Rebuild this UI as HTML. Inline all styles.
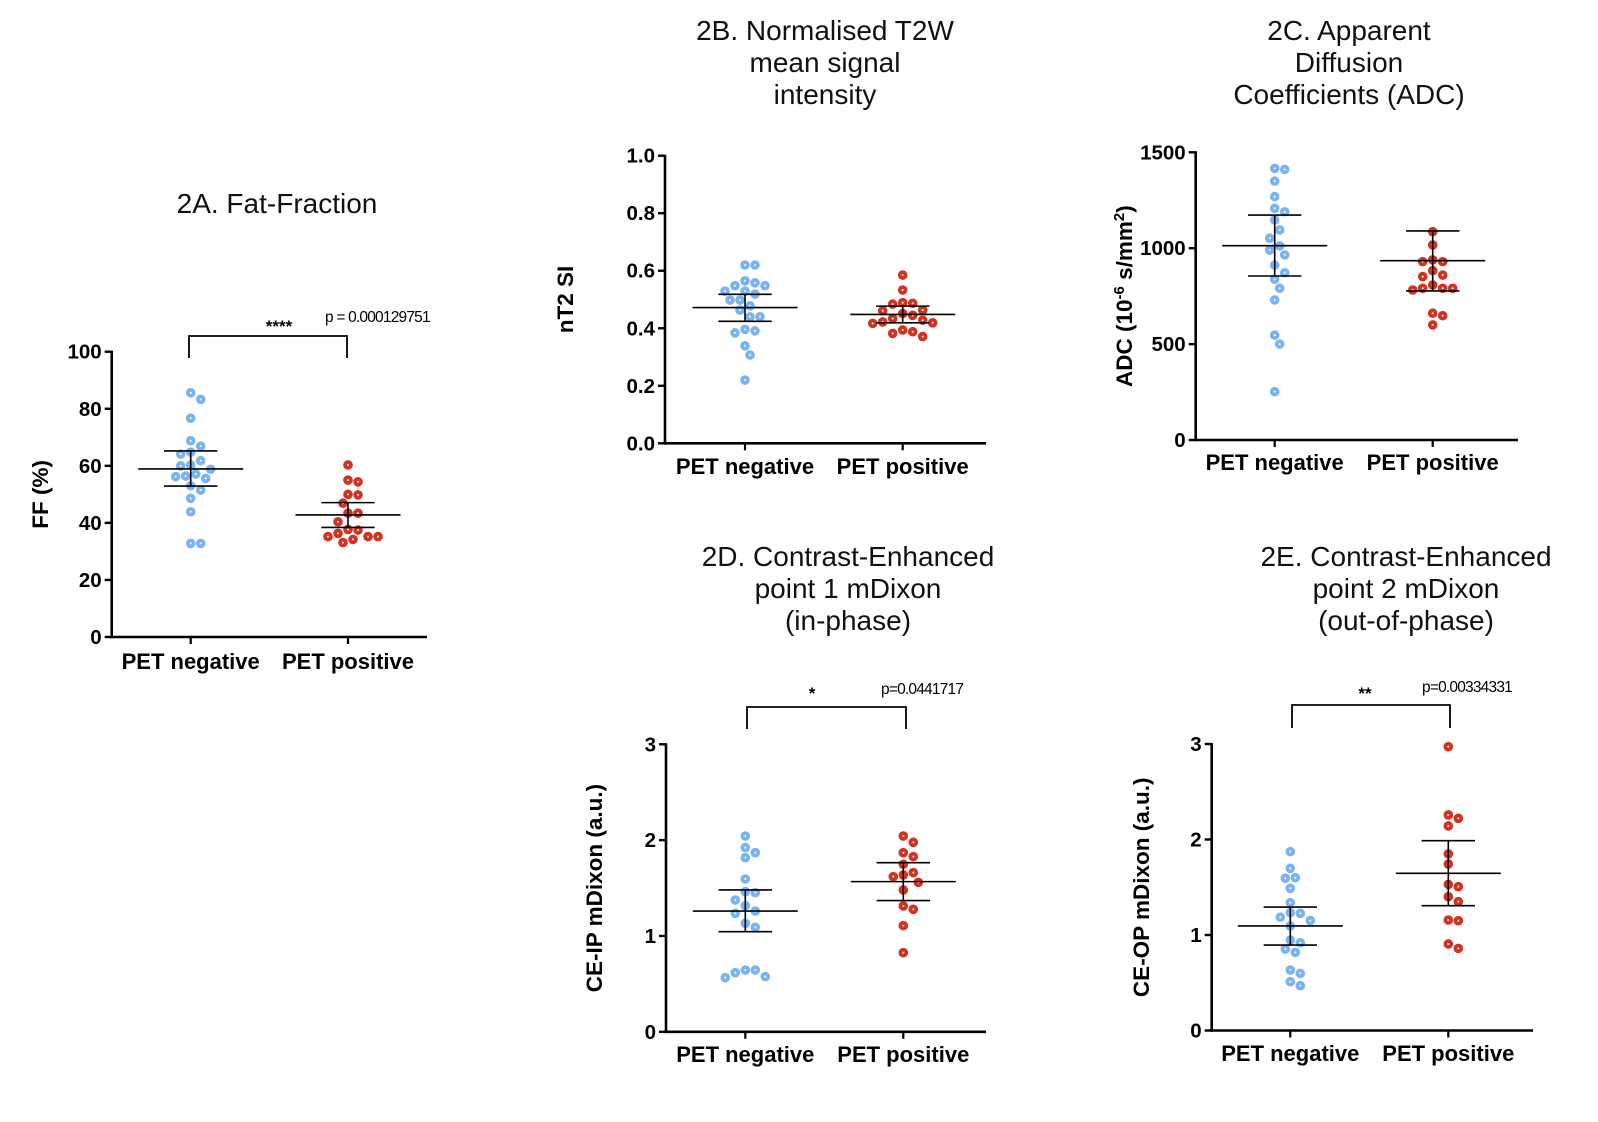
<!DOCTYPE html>
<html><head><meta charset="utf-8"><style>
html,body{margin:0;padding:0;background:#fff}
svg{display:block}
text{font-family:"Liberation Sans",Arial,sans-serif}
</style></head><body>
<svg id="chart" width="1598" height="1122" viewBox="0 0 1598 1122" xmlns="http://www.w3.org/2000/svg"></svg>
<script>
// ---- data (top-level arrays) ----
const categories = ["PET negative","PET positive"];
const ffNeg = [85.6,83.3,76.7,68.8,66.9,64.1,64.8,61.8,60.0,60.3,58.8,57.1,56.4,55.6,56.2,53.0,51.5,48.6,43.9,32.8,32.8];
const ffPos = [60.3,55.0,54.4,50.0,49.8,46.9,43.4,43.4,40.4,37.5,37.7,36.3,35.2,35.2,35.2,34.2,33.1];
const ffMean = [58.9,42.8], ffHi = [65.2,47.1], ffLo = [52.9,38.4];
const ffTicks = [0,20,40,60,80,100];
const t2Neg = [0.62,0.62,0.565,0.558,0.548,0.548,0.529,0.529,0.519,0.498,0.498,0.478,0.463,0.44,0.44,0.391,0.384,0.396,0.339,0.307,0.22];
const t2Pos = [0.585,0.533,0.487,0.489,0.484,0.463,0.461,0.445,0.451,0.428,0.434,0.422,0.419,0.417,0.394,0.388,0.382,0.371];
const t2Mean = [0.472,0.448], t2Hi = [0.518,0.477], t2Lo = [0.424,0.419];
const t2Ticks = [0,0.2,0.4,0.6,0.8,1.0];
const adcNeg = [1416,1411,1350,1269,1208,1190,1147,1095,1052,1012,991,965,912,872,838,791,730,547,500,252];
const adcPos = [1086,1017,939,930,930,883,860,852,808,791,791,791,782,661,648,600];
const adcMean = [1013,935], adcHi = [1173,1090], adcLo = [855,777];
const adcTicks = [0,500,1000,1500];
const ipNeg = [2.043,1.922,1.869,1.817,1.595,1.462,1.452,1.375,1.316,1.26,1.236,1.132,1.09,0.645,0.617,0.565,0.576,0.645];
const ipPos = [2.043,1.977,1.869,1.828,1.748,1.661,1.619,1.637,1.56,1.48,1.313,1.278,1.108,0.826];
const ipMean = [1.26,1.567], ipHi = [1.48,1.765], ipLo = [1.045,1.369];
const opNeg = [1.873,1.698,1.6,1.594,1.489,1.339,1.234,1.227,1.186,1.151,1.095,0.947,0.919,0.853,0.818,0.633,0.598,0.511,0.469];
const opPos = [2.972,2.257,2.222,2.142,1.849,1.743,1.53,1.506,1.401,1.349,1.157,1.15,0.906,0.86];
const opMean = [1.095,1.646], opHi = [1.293,1.988], opLo = [0.895,1.307];
const ceTicks = [0,1,2,3];

const NS="http://www.w3.org/2000/svg";
const svg=document.getElementById('chart');
function mk(tag,attrs,parent){const e=document.createElementNS(NS,tag);for(const k in attrs)e.setAttribute(k,attrs[k]);(parent||svg).appendChild(e);return e;}

const panels=[
 {id:'a',ax:111.7,ay0:637,ayTop:351.7,xEnd:427,gx:[190.7,348],min:0,max:100,ticks:ffTicks,neg:ffNeg,pos:ffPos,mean:ffMean,hi:ffHi,lo:ffLo,
  ylabel:'FF (%)',ylx:40,catY:669,fmt:v=>String(v)},
 {id:'b',ax:665,ay0:443.3,ayTop:155.7,xEnd:986,gx:[745,902.7],min:0,max:1,ticks:t2Ticks,neg:t2Neg,pos:t2Pos,mean:t2Mean,hi:t2Hi,lo:t2Lo,
  ylabel:'nT2 SI',ylx:565,catY:474,fmt:v=>v.toFixed(1)},
 {id:'c',ax:1195.7,ay0:440,ayTop:152.3,xEnd:1518,gx:[1274.7,1432.7],min:0,max:1500,ticks:adcTicks,neg:adcNeg,pos:adcPos,mean:adcMean,hi:adcHi,lo:adcLo,
  ylabel:'adc',ylx:1124,catY:470,fmt:v=>String(v)},
 {id:'d',ax:666,ay0:1031.8,ayTop:744.3,xEnd:986,gx:[745.3,903.3],min:0,max:3,ticks:ceTicks,neg:ipNeg,pos:ipPos,mean:ipMean,hi:ipHi,lo:ipLo,
  ylabel:'CE-IP mDixon (a.u.)',ylx:594,catY:1062,fmt:v=>String(v)},
 {id:'e',ax:1211.7,ay0:1030.5,ayTop:744,xEnd:1533,gx:[1290.3,1448.3],min:0,max:3,ticks:ceTicks,neg:opNeg,pos:opPos,mean:opMean,hi:opHi,lo:opLo,
  ylabel:'CE-OP mDixon (a.u.)',ylx:1141,catY:1061,fmt:v=>String(v)}
];

function swarm(vals,yf,cx,r){
  const pts=vals.map((v,i)=>({v,y:yf(v),i})).sort((a,b)=>a.y-b.y);
  const placed=[];const d=2*r+0.4;
  pts.forEach(p=>{
    const cands=[0];for(let k=1;k<14;k++){cands.push(k*d/2,-k*d/2);}
    let best=0;
    for(const dx of cands){
      if(placed.every(q=>Math.hypot(q.x-(cx+dx),q.y-p.y)>=d)){best=dx;break;}
    }
    p.x=cx+best;placed.push(p);
  });
  return placed;
}

panels.forEach(P=>{
  const g=mk('g',{});
  
  
  const y=v=>P.ay0-(v-P.min)/(P.max-P.min)*(P.ay0-P.ayTop);
  const ya=mk('line',{x1:P.ax,y1:P.ayTop-1,x2:P.ax,y2:P.ay0+1.3,stroke:'#000','stroke-width':2.6},g);
  
  
  const xa=mk('line',{x1:P.ax-1.3,y1:P.ay0,x2:P.xEnd,y2:P.ay0,stroke:'#000','stroke-width':2.6},g);
  
  
  P.ticks.forEach(t=>{
    const ty=y(t);
    mk('line',{x1:P.ax-7,y1:ty,x2:P.ax,y2:ty,stroke:'#000','stroke-width':2.4},g);
    const tl=mk('text',{x:P.ax-10,y:ty+7,'text-anchor':'end','font-size':20.5,'font-weight':'bold'},g);
    tl.textContent=P.fmt(t);
    
    
  });
  P.gx.forEach((gx,i)=>{
    mk('line',{x1:gx,y1:P.ay0,x2:gx,y2:P.ay0+7,stroke:'#000','stroke-width':2.2},g);
    const cl=mk('text',{x:gx,y:P.catY,'text-anchor':'middle','font-size':22,'font-weight':'bold'},g);
    cl.textContent=categories[i];
    
    
  });
  const cy=(P.ayTop+P.ay0)/2;
  const yl=mk('text',{x:P.ylx,y:cy,'text-anchor':'middle','font-size':22.5,'font-weight':'bold',transform:`rotate(-90 ${P.ylx} ${cy})`,dy:8},g);
  
  
  if(P.ylabel==='adc'){
    yl.appendChild(document.createTextNode('ADC (10'));
    const s1=mk('tspan',{dy:-8,'font-size':15},yl);s1.textContent='-6';
    const s2=mk('tspan',{dy:8},yl);s2.textContent=' s/mm';
    const s3=mk('tspan',{dy:-8,'font-size':15},yl);s3.textContent='2';
    const s4=mk('tspan',{dy:8},yl);s4.textContent=')';
  } else yl.textContent=P.ylabel;
  [[P.neg,'#7ab3f2',0],[P.pos,'#d2321e',1]].forEach(([vals,col,gi])=>{
    swarm(vals,y,P.gx[gi],4.8).forEach(p=>{
      const c=mk('circle',{cx:p.x,cy:p.y,r:4.8,fill:col},g);
      
      
      mk('circle',{cx:p.x,cy:p.y,r:1,fill:'#fff'},g);
    });
  });
  P.gx.forEach((gx,i)=>{
    const ml=mk('line',{x1:gx-52.5,y1:y(P.mean[i]),x2:gx+52.5,y2:y(P.mean[i]),stroke:'#000','stroke-width':1.6},g);
    
    
    mk('line',{x1:gx,y1:y(P.hi[i]),x2:gx,y2:y(P.lo[i]),stroke:'#000','stroke-width':1.6},g);
    [P.hi[i],P.lo[i]].forEach(v=>{
      const e=mk('line',{x1:gx-26.7,y1:y(v),x2:gx+26.7,y2:y(v),stroke:'#000','stroke-width':1.6},g);
      
      
    });
  });
});

function title(lines,cx,y0,name){
  const t=mk('text',{x:cx,y:y0,'text-anchor':'middle','font-size':28,fill:'#111'});
  
  
  lines.forEach((l,i)=>{const s=mk('tspan',{x:cx,dy:i?32:0},t);s.textContent=l;});
}
title(['2A. Fat-Fraction'],277,213,'title-2a');
title(['2B. Normalised T2W','mean signal','intensity'],825,40,'title-2b');
title(['2C. Apparent','Diffusion','Coefficients (ADC)'],1349,40,'title-2c');
title(['2D. Contrast-Enhanced','point 1 mDixon','(in-phase)'],848,566,'title-2d');
title(['2E. Contrast-Enhanced','point 2 mDixon','(out-of-phase)'],1406,566,'title-2e');

function bracket(x1,x2,top,bot,stars,sx,sy,ptxt,px,py,name){
  const p=mk('path',{d:`M${x1} ${bot}V${top}H${x2}V${bot}`,fill:'none',stroke:'#000','stroke-width':1.8});
  
  
  const s=mk('text',{x:sx,y:sy,'text-anchor':'middle','font-size':17,'font-weight':'bold'});
  s.textContent=stars;
  
  
  const t=mk('text',{x:px,y:py,'font-size':15.5,'letter-spacing':'-0.8'});
  t.textContent=ptxt;
  
  
}
bracket(189,347,336,358,'****',279,332,'p = 0.000129751',325,322,'sig-a');
bracket(747,906,707,729,'*',812,699,'p=0.0441717',881,694,'sig-d');
bracket(1292,1450,705,728,'**',1365,699,'p=0.00334331',1422,692,'sig-e');
</script>
</body></html>
